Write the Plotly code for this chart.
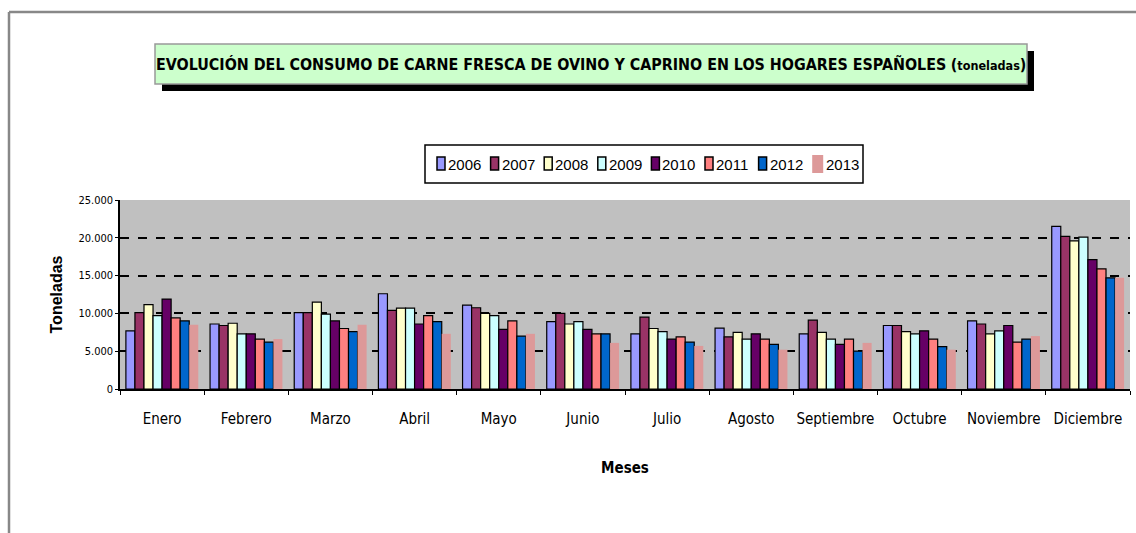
import plotly.graph_objects as go

meses = ["Enero", "Febrero", "Marzo", "Abril", "Mayo", "Junio", "Julio",
         "Agosto", "Septiembre", "Octubre", "Noviembre", "Diciembre"]
years = ["2006", "2007", "2008", "2009", "2010", "2011", "2012", "2013"]

v2006 = [7700, 8600, 10100, 12600, 11100, 8900, 7300, 8050, 7300, 8400, 9000, 21500]
v2007 = [10100, 8400, 10100, 10400, 10750, 10000, 9500, 6900, 9100, 8400, 8600, 20200]
v2008 = [11150, 8700, 11500, 10700, 10000, 8600, 8000, 7500, 7500, 7600, 7300, 19600]
v2009 = [9700, 7300, 9900, 10700, 9700, 8900, 7600, 6600, 6600, 7300, 7700, 20100]
v2010 = [11900, 7300, 9000, 8600, 7900, 7900, 6600, 7300, 5900, 7700, 8400, 17100]
v2011 = [9400, 6600, 8000, 9700, 9000, 7300, 6900, 6600, 6600, 6600, 6200, 15900]
v2012 = [9000, 6200, 7600, 8900, 7000, 7300, 6200, 5900, 5000, 5600, 6600, 14700]
v2013 = [8500, 6600, 8500, 7300, 7300, 6100, 5700, 5200, 6100, 5200, 7000, 14700]

series = [v2006, v2007, v2008, v2009, v2010, v2011, v2012, v2013]
colors = ["#9999ff", "#993366", "#ffffcc", "#ccffff", "#660066", "#ff8080", "#0066cc", "#dd9999"]
outline = [True, True, True, True, True, True, True, False]

narrow = "DejaVu Sans Condensed, Liberation Sans Narrow, sans-serif"
arial = "Liberation Sans, Arial, sans-serif"

# plot area in pixels
L, R, T, B = 120, 1130, 200, 389
W, H = R - L, B - T


def px(x):
    return (x - L) / W


def py(y):
    return (B - y) / H


fig = go.Figure()
for y, vals, c, ol in zip(years, series, colors, outline):
    fig.add_trace(go.Bar(
        name=y, x=meses, y=vals, showlegend=False,
        marker=dict(color=c, line=dict(color="black", width=1.2 if ol else 0)),
    ))

fig.update_layout(
    width=1136, height=533,
    margin=dict(l=L, r=1136 - R, t=T, b=533 - B),
    paper_bgcolor="white",
    plot_bgcolor="#c0c0c0",
    barmode="group",
    bargap=0.14,
    bargroupgap=0.0,
    separators=",.",
    font=dict(family=narrow, color="black"),
)

fig.update_xaxes(
    showline=True, linecolor="black", linewidth=1.5,
    ticks="outside", tickson="boundaries", ticklen=4, tickcolor="black",
    tickangle=0, ticklabelstandoff=15,
    tickfont=dict(family=narrow, size=15, color="black"),
    title=dict(text="<b>Meses</b>", font=dict(family=narrow, size=15, color="black"), standoff=36),
    showgrid=False,
)
fig.update_yaxes(
    range=[0, 25000], dtick=5000, tickformat=",.0f",
    showline=True, linecolor="black", linewidth=1.5,
    ticks="outside", ticklen=3, tickcolor="black",
    tickfont=dict(family=narrow, size=11, color="black"),
    showgrid=True, gridcolor="black", griddash="dash", gridwidth=1.5,
    zeroline=False,
    title=dict(text="<b>Toneladas</b>", font=dict(family=arial, size=16, color="black"), standoff=12),
)

# outer frame (top and left edges visible)
fig.add_shape(type="line", xref="paper", yref="paper", x0=px(9), x1=px(1140), y0=py(12), y1=py(12),
              line=dict(color="#888888", width=2.5))
fig.add_shape(type="line", xref="paper", yref="paper", x0=px(9), x1=px(9), y0=py(12), y1=py(540),
              line=dict(color="#888888", width=2.5))

# title box with shadow
fig.add_shape(type="rect", xref="paper", yref="paper",
              x0=px(162), x1=px(1034), y0=py(91), y1=py(51),
              fillcolor="black", line=dict(width=0))
fig.add_shape(type="rect", xref="paper", yref="paper",
              x0=px(155), x1=px(1027), y0=py(84), y1=py(44),
              fillcolor="#ccffcc", line=dict(color="#999999", width=1.5))
fig.add_annotation(
    xref="paper", yref="paper", x=px(591), y=py(64),
    xanchor="center", yanchor="middle", showarrow=False,
    text="<b>EVOLUCIÓN DEL CONSUMO DE CARNE FRESCA DE OVINO Y CAPRINO EN LOS HOGARES ESPAÑOLES</b> <b>(</b><b style='font-size:12.5px'>toneladas</b><b>)</b>",
    font=dict(family=narrow, size=15.9, color="black"),
)

# legend box, drawn from the years / colors lists
fig.add_shape(type="rect", xref="paper", yref="paper",
              x0=px(425), x1=px(863), y0=py(183), y1=py(145),
              fillcolor="white", line=dict(color="black", width=1.5))
start, step = 437, 53.6
for i, (yr, c, ol) in enumerate(zip(years, colors, outline)):
    x0 = start + i * step
    if ol:
        fig.add_shape(type="rect", xref="paper", yref="paper",
                      x0=px(x0), x1=px(x0 + 8), y0=py(170), y1=py(157),
                      fillcolor=c, line=dict(color="black", width=1.5))
        tx = x0 + 9
    else:
        fig.add_shape(type="rect", xref="paper", yref="paper",
                      x0=px(x0), x1=px(x0 + 11), y0=py(173), y1=py(155),
                      fillcolor=c, line=dict(width=0))
        tx = x0 + 12
    fig.add_annotation(xref="paper", yref="paper", x=px(tx), y=py(164),
                       xanchor="left", yanchor="middle", showarrow=False,
                       text=yr, font=dict(family=arial, size=15, color="black"))

fig.write_html("out.html", config={"displayModeBar": False},
               post_script="document.body.style.margin='0';")
